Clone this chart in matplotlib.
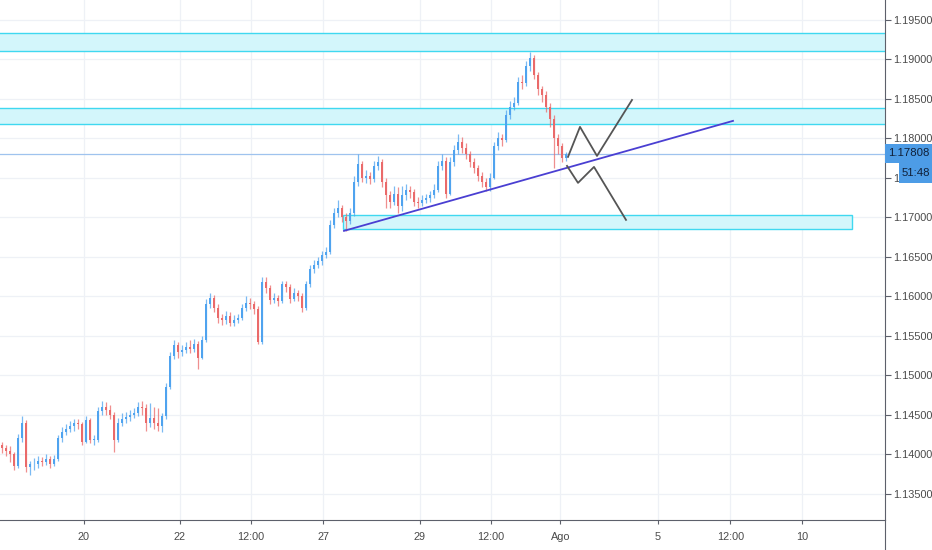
import matplotlib

matplotlib.use("Agg")
import matplotlib.pyplot as plt
from matplotlib.lines import Line2D
from matplotlib.patches import Rectangle

# 2h candles, EUR/USD, bar index 0..141
closes = [
    1.1408, 1.1404, 1.1400, 1.1385, 1.1420, 1.1440, 1.1384, 1.1387, 1.1388, 1.1392,
    1.1390, 1.1394, 1.1388, 1.1394, 1.1420, 1.1428, 1.1432, 1.1436, 1.1440, 1.1438,
    1.1416, 1.1443, 1.1418, 1.1418, 1.1455, 1.1460, 1.1456, 1.1450, 1.1418, 1.1440,
    1.1445, 1.1447, 1.1450, 1.1452, 1.1460, 1.1458, 1.1440, 1.1446, 1.1440, 1.1436,
    1.1448, 1.1485, 1.1525, 1.1538, 1.1530, 1.1532, 1.1536, 1.1533, 1.1540, 1.1522,
    1.1545, 1.1590, 1.1598, 1.1585, 1.1572, 1.1570, 1.1575, 1.1566, 1.1570, 1.1572,
    1.1585, 1.1592, 1.1590, 1.1584, 1.1542, 1.1618, 1.1610, 1.1595, 1.1598, 1.1594,
    1.1615, 1.1612, 1.1596, 1.1604, 1.1600, 1.1585, 1.1615, 1.1635, 1.1640, 1.1645,
    1.1652, 1.1656, 1.1690, 1.1705, 1.1712, 1.1700, 1.1696, 1.1705, 1.1745, 1.1768,
    1.1750, 1.1752, 1.1748, 1.1765, 1.1770, 1.1745, 1.1728, 1.1720, 1.1730, 1.1715,
    1.1728, 1.1735, 1.1732, 1.1720, 1.1718, 1.1722, 1.1725, 1.1728, 1.1735, 1.1765,
    1.1772, 1.1730, 1.1770, 1.1785, 1.1795, 1.1788, 1.1780, 1.1770, 1.1762, 1.1752,
    1.1745, 1.1738, 1.1750, 1.1790, 1.1800, 1.1798, 1.1830, 1.1840, 1.1845, 1.1872,
    1.1870, 1.1892, 1.1902, 1.1880, 1.1862, 1.1855, 1.1840, 1.1825, 1.1800, 1.1790,
    1.1775, 1.17808,
]
highs = [
    1.1416, 1.1412, 1.1410, 1.1403, 1.1426, 1.1448, 1.1443, 1.1392, 1.1395, 1.1398,
    1.1396, 1.1400, 1.1398, 1.1399, 1.1424, 1.1434, 1.1438, 1.1442, 1.1444, 1.1445,
    1.1441, 1.1448, 1.1446, 1.1424, 1.1460, 1.1468, 1.1466, 1.1462, 1.1454, 1.1446,
    1.1452, 1.1454, 1.1456, 1.1458, 1.1466, 1.1468, 1.1463, 1.1465, 1.1460, 1.1458,
    1.1452, 1.1490, 1.1530, 1.1545, 1.1542, 1.1538, 1.1542, 1.1545, 1.1546, 1.1543,
    1.1550, 1.1596, 1.1604, 1.1602, 1.1590, 1.1578, 1.1582, 1.1580, 1.1576, 1.1578,
    1.1590, 1.1600, 1.1598, 1.1594, 1.1588, 1.1625, 1.1624, 1.1614, 1.1604, 1.1602,
    1.1620, 1.1620, 1.1616, 1.1610, 1.1608, 1.1604, 1.1620, 1.1640, 1.1646, 1.1650,
    1.1658, 1.1662, 1.1697, 1.1712, 1.1722, 1.1716, 1.1706, 1.1712, 1.1752, 1.1780,
    1.1772, 1.1760, 1.1758, 1.1772, 1.1778, 1.1774, 1.1750, 1.1734, 1.1740, 1.1738,
    1.1740, 1.1742, 1.1740, 1.1736, 1.1726, 1.1728, 1.1730, 1.1734, 1.1742, 1.1772,
    1.1780, 1.1776, 1.1776, 1.1792, 1.1805, 1.1802, 1.1794, 1.1784, 1.1775, 1.1766,
    1.1758, 1.1750, 1.1756, 1.1796, 1.1808, 1.1806, 1.1836, 1.1848, 1.1852, 1.1878,
    1.1880, 1.1898, 1.1910, 1.1906, 1.1884, 1.1866, 1.1860, 1.1845, 1.1830, 1.1806,
    1.1794, 1.1783,
]
lows = [
    1.1402, 1.1398, 1.1390, 1.1380, 1.1383, 1.1416, 1.1378, 1.1374, 1.1380, 1.1383,
    1.1385, 1.1386, 1.1382, 1.1385, 1.1392, 1.1415, 1.1424, 1.1428, 1.1430, 1.1432,
    1.1412, 1.1414, 1.1414, 1.1412, 1.1416, 1.1450, 1.1450, 1.1444, 1.1403, 1.1415,
    1.1436, 1.1440, 1.1442, 1.1446, 1.1449, 1.1450, 1.1430, 1.1434, 1.1432, 1.1430,
    1.1428, 1.1445, 1.1482, 1.1520, 1.1522, 1.1524, 1.1528, 1.1528, 1.1530, 1.1508,
    1.1520, 1.1542, 1.1585, 1.1580, 1.1566, 1.1564, 1.1565, 1.1562, 1.1562, 1.1566,
    1.1570, 1.1582, 1.1584, 1.1578, 1.1540, 1.1540, 1.1604, 1.1590, 1.1592, 1.1588,
    1.1592, 1.1606, 1.1592, 1.1594, 1.1594, 1.1580, 1.1583, 1.1612, 1.1630, 1.1636,
    1.1640, 1.1648, 1.1654, 1.1686, 1.1700, 1.1694, 1.1683, 1.1692, 1.1702, 1.1740,
    1.1745, 1.1744, 1.1742, 1.1745, 1.1760, 1.1738, 1.1712, 1.1712, 1.1716, 1.1705,
    1.1708, 1.1722, 1.1724, 1.1714, 1.1712, 1.1714, 1.1718, 1.1720, 1.1724, 1.1732,
    1.1760, 1.1725, 1.1728, 1.1765, 1.1780, 1.1782, 1.1774, 1.1764, 1.1756, 1.1746,
    1.1738, 1.1733, 1.1734, 1.1748, 1.1785, 1.1790, 1.1795, 1.1825, 1.1836, 1.1842,
    1.1862, 1.1866, 1.1886, 1.1875, 1.1855, 1.1846, 1.1834, 1.1815, 1.1763, 1.1780,
    1.1770, 1.1772,
]
first_open = 1.1412
opens = [first_open] + closes[:-1]

price_ticks = [1.135, 1.140, 1.145, 1.150, 1.155, 1.160, 1.165,
               1.170, 1.175, 1.180, 1.185, 1.190, 1.195]
date_ticks = [20.5, 44.4, 62.3, 80.3, 104.4, 122.2, 139.6, 164.0, 182.1, 200.0]
date_labels = ["20", "22", "12:00", "27", "29", "12:00", "Ago", "5", "12:00", "10"]

# drawings
resistance_zones = [(1.19108, 1.19335), (1.18184, 1.18386)]
support_zone = (1.16855, 1.17030)
support_span = (85.25, 212.5)
trend_x = [85.5, 182.75]
trend_y = [1.16829, 1.18222]
bull_x = [141.5, 144.5, 148.75, 157.5]
bull_y = [1.17766, 1.18146, 1.17778, 1.18487]
bear_x = [141.25, 144.0, 148.0, 156.0]
bear_y = [1.17652, 1.17437, 1.17639, 1.16968]
last_price = 1.17808
countdown = "51:48"

W, H = 932, 550
UP = "#4fa3ef"
DOWN = "#ea6a6a"
TXT = "#4a4a4a"
AXC = "#5d606b"
FONT = "Liberation Sans"


def fx(px):
    return px / W


def fy(py):
    return 1 - py / H


fig = plt.figure(figsize=(W / 100, H / 100), dpi=100)
fig.patch.set_facecolor("white")
ax = fig.add_axes([0, fy(520), fx(885), 520 / H])
ax.set_xlim(-0.5, 220.75)
ax.set_ylim(1.13167, 1.19753)

# grid
for p in price_ticks:
    ax.axhline(p, color="#eef1f6", lw=0.9, zorder=0)
for d in date_ticks:
    ax.axvline(d, color="#eef1f6", lw=0.9, zorder=0)

# zones
for lo, hi in resistance_zones:
    ax.add_patch(Rectangle((-1, lo), 230, hi - lo, facecolor="#d3f6fb",
                           edgecolor="#3fd8f0", lw=1.0, zorder=1))
ax.add_patch(Rectangle((support_span[0], support_zone[0]),
                       support_span[1] - support_span[0],
                       support_zone[1] - support_zone[0],
                       facecolor="#d3f6fb", edgecolor="#3fd8f0", lw=1.0, zorder=1))

ax.axhline(last_price, color="#9fc3ee", lw=0.9, zorder=2)

# candles
idx = list(range(len(closes)))
cols = [UP if c >= o else DOWN for o, c in zip(opens, closes)]
ax.vlines(idx, lows, highs, colors=cols, lw=0.9, alpha=0.75, zorder=3)
bottoms = [min(o, c) for o, c in zip(opens, closes)]
heights = [max(abs(c - o), 0.00008) for o, c in zip(opens, closes)]
ax.bar(idx, heights, bottom=bottoms, width=0.68, color=cols, lw=0, zorder=4)

ax.plot(trend_x, trend_y, color="#4a3fd2", lw=1.3, zorder=5)
ax.plot(bull_x, bull_y, color="#555555", lw=1.3, zorder=5)
ax.plot(bear_x, bear_y, color="#555555", lw=1.3, zorder=5)

# axes styling
for s in ("top", "left"):
    ax.spines[s].set_visible(False)
ax.spines["right"].set_color(AXC)
ax.spines["bottom"].set_color(AXC)
ax.yaxis.tick_right()
ax.set_yticks(price_ticks)
ax.set_yticklabels([f"{p:.5f}" for p in price_ticks], fontsize=7.8,
                   color=TXT, family=FONT)
ax.tick_params(axis="y", length=4, width=0.8, color=AXC, pad=2)
ax.set_xticks(date_ticks)
ax.set_xticklabels(date_labels, fontsize=7.8, color=TXT, family=FONT)
ax.tick_params(axis="x", length=3, width=0.8, color=AXC, pad=6)

# right axis extends to the bottom edge
fig.add_artist(Line2D([fx(885), fx(885)], [0, fy(520)], color=AXC, lw=0.8,
                      transform=fig.transFigure))

# price + countdown labels over the axis
fig.add_artist(Rectangle((fx(885), fy(163)), fx(932) - fx(885), fy(144) - fy(163),
                         transform=fig.transFigure, facecolor="#4d9ce6",
                         edgecolor="none", zorder=10))
fig.add_artist(Rectangle((fx(899), fy(183)), fx(932) - fx(899), fy(163) - fy(183),
                         transform=fig.transFigure, facecolor="#4d9ce6",
                         edgecolor="none", zorder=10))
fig.text(fx(909), fy(153.5), f"{last_price:.5f}", ha="center", va="center",
         fontsize=8.2, color="#102038", family=FONT, zorder=11)
fig.text(fx(915.5), fy(173), countdown, ha="center", va="center",
         fontsize=8.2, color="#102038", family=FONT, zorder=11)

fig.savefig("out.png", dpi=100)
plt.close(fig)
